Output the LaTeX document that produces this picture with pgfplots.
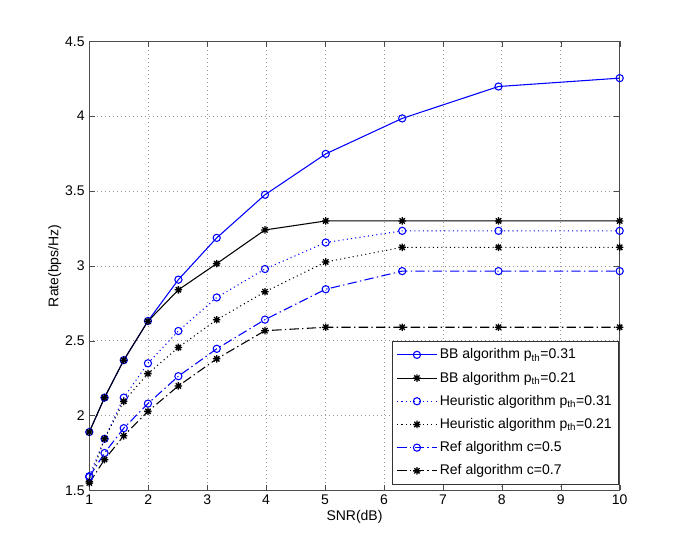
\documentclass[border=0pt]{standalone}
\usepackage{pgfplots}
\pgfplotsset{compat=1.18}
\usepackage{fontspec}
\setmainfont{Liberation Sans}
\definecolor{mblue}{rgb}{0,0,1}

% MATLAB-like '*' marker: plus and cross together
\pgfdeclareplotmark{mstar}{%
  \pgfpathmoveto{\pgfqpoint{-\pgfplotmarksize}{0pt}}\pgfpathlineto{\pgfqpoint{\pgfplotmarksize}{0pt}}%
  \pgfpathmoveto{\pgfqpoint{0pt}{-\pgfplotmarksize}}\pgfpathlineto{\pgfqpoint{0pt}{\pgfplotmarksize}}%
  \pgfpathmoveto{\pgfqpoint{-.707\pgfplotmarksize}{-.707\pgfplotmarksize}}\pgfpathlineto{\pgfqpoint{.707\pgfplotmarksize}{.707\pgfplotmarksize}}%
  \pgfpathmoveto{\pgfqpoint{-.707\pgfplotmarksize}{.707\pgfplotmarksize}}\pgfpathlineto{\pgfqpoint{.707\pgfplotmarksize}{-.707\pgfplotmarksize}}%
  \pgfusepathqstroke}

\pgfplotstableread{
x       bb31   bb21   h31    h21    r05    r07
1.0000  1.890  1.890  1.595  1.560  1.590  1.550
1.2589  2.120  2.120  1.845  1.845  1.750  1.706
1.5849  2.370  2.370  2.120  2.095  1.916  1.865
1.9953  2.632  2.630  2.349  2.280  2.080  2.028
2.5119  2.908  2.840  2.565  2.455  2.263  2.198
3.1623  3.187  3.015  2.789  2.640  2.446  2.379
3.9811  3.475  3.240  2.979  2.827  2.641  2.567
5.0119  3.748  3.300  3.156  3.026  2.844  2.590
6.3096  3.985  3.300  3.234  3.124  2.965  2.590
7.9433  4.198  3.300  3.234  3.124  2.965  2.590
10.000  4.254  3.300  3.234  3.124  2.965  2.590
}\rates

\begin{document}
\begin{tikzpicture}
\path[use as bounding box] (-67pt,-46pt) rectangle (447pt,368pt);
\begin{axis}[
  scale only axis,width=398pt,height=337pt,
  xmin=1,xmax=10,ymin=1.5,ymax=4.5,
  xtick={1,2,...,10},ytick={1.5,2,...,4.5},
  tick align=inside,major tick length=4pt,
  axis line style={black!70},tick style={black!70},
  grid=major,grid style={dash pattern=on 0.6pt off 2.4pt,black!40,line width=0.5pt},
  font=\fontsize{10.5}{12.6}\selectfont,
  /pgf/number format/assume math mode=true,
  ticklabel style={font=\fontsize{10.5}{12.6}\selectfont},
  xlabel={SNR(dB)},ylabel={Rate(bps/Hz)},
  xlabel style={yshift=3pt},ylabel style={yshift=-4pt},
  legend cell align=left,
  legend style={at={(0.998,0.013)},anchor=south east,draw=black!80,
    line width=0.5pt,fill=white,row sep=4.3pt,inner xsep=3pt,inner ysep=3.5pt,
    font=\fontsize{10.5}{12.6}\selectfont},
  legend image code/.code={%
    \draw[mark repeat=2,mark phase=2] plot coordinates {(0cm,0cm) (0.52cm,0cm) (1.04cm,0cm)};},
  every axis plot/.append style={line width=0.8pt},
  mdot/.style={dash pattern=on 0.8pt off 2.4pt},
  mdashdot/.style={dash pattern=on 7pt off 2.5pt on 1pt off 2.5pt},
]
\addplot[mblue,mark=o,mark size=2.7pt,mark options={solid}] table[y=bb31] {\rates};
\addlegendentry{BB algorithm p\textsubscript{th}=0.31}
\addplot[black,mark=mstar,mark size=2.8pt,mark options={solid,line width=1pt}] table[y=bb21] {\rates};
\addlegendentry{BB algorithm p\textsubscript{th}=0.21}
\addplot[mblue,mdot,mark=o,mark size=2.7pt,mark options={solid}] table[y=h31] {\rates};
\addlegendentry{Heuristic algorithm p\textsubscript{th}=0.31}
\addplot[black,mdot,mark=mstar,mark size=2.8pt,mark options={solid,line width=1pt}] table[y=h21] {\rates};
\addlegendentry{Heuristic algorithm p\textsubscript{th}=0.21}
\addplot[mblue,mdashdot,mark=o,mark size=2.7pt,mark options={solid}] table[y=r05] {\rates};
\addlegendentry{Ref algorithm c=0.5}
\addplot[black,mdashdot,mark=mstar,mark size=2.8pt,mark options={solid,line width=1pt}] table[y=r07] {\rates};
\addlegendentry{Ref algorithm c=0.7}
\end{axis}
\end{tikzpicture}
\end{document}
